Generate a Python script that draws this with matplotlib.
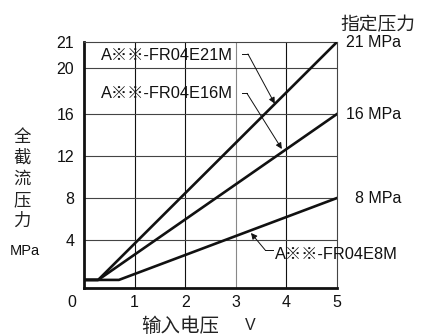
import numpy as np
import matplotlib
matplotlib.use("Agg")
import matplotlib.pyplot as plt

plt.rcParams["font.family"] = ["Liberation Sans", "Noto Sans CJK SC"]

# data
voltage_21 = [0.0, 0.28, 5.0]
pressure_21 = [0.2, 0.2, 21.0]
voltage_16 = [0.0, 0.28, 5.0]
pressure_16 = [0.2, 0.2, 16.0]
voltage_8 = [0.0, 0.69, 5.0]
pressure_8 = [0.2, 0.2, 8.0]

x_ticks = [1, 2, 3, 4, 5]
y_ticks = [4, 8, 12, 16, 20, 21]
set_pressures = [21, 16, 8]
model_names = ["A※※-FR04E21M", "A※※-FR04E16M", "A※※-FR04E8M"]

# the drawing's y axis is stretched near the top (20-21)
knots_data = np.array([-10.0, 16.0, 20.0, 21.0, 30.0])
knots_disp = np.array([-105.0, 168.0, 214.0, 240.0, 474.0])


def fwd(y):
    return np.interp(y, knots_data, knots_disp)


def inv(p):
    return np.interp(p, knots_disp, knots_data)


fig = plt.figure(figsize=(4.27, 3.35), dpi=100)
ax = fig.add_axes([0.1967, 0.1403, 0.5925, 0.7343])
ax.set_yscale("function", functions=(fwd, inv))
ax.set_xlim(0, 5)
ax.set_ylim(-0.57, 21)

# grid
for x in [1, 2, 3, 4]:
    ax.axvline(x, color="#888888" if x == 3 else "#111111", lw=0.8, zorder=1)
for y in [4, 8, 12, 16, 20]:
    ax.axhline(y, color="#444444", lw=0.8, zorder=1)

ax.plot(voltage_21, pressure_21, color="#111111", lw=1.9, zorder=3)
ax.plot(voltage_16, pressure_16, color="#111111", lw=1.9, zorder=3)
ax.plot(voltage_8, pressure_8, color="#111111", lw=1.9, zorder=3)

ax.set_xticks(x_ticks)
ax.set_xticklabels([str(t) for t in x_ticks])
ax.set_yticks(y_ticks)
ax.set_yticklabels([str(t) for t in y_ticks])
ax.yaxis.set_minor_locator(matplotlib.ticker.NullLocator())
ax.tick_params(length=0, labelsize=11.5, colors="#111111")
ax.tick_params(axis="y", pad=7)
ax.tick_params(axis="x", pad=5)

for side in ["left", "bottom"]:
    ax.spines[side].set_linewidth(2.0)
    ax.spines[side].set_color("#111111")
for side in ["top", "right"]:
    ax.spines[side].set_linewidth(0.8)
    ax.spines[side].set_color("#444444")

ax.text(-0.24, -1.2, "0", fontsize=11.5, ha="center", va="top", color="#111111")

# right side labels
trans = matplotlib.transforms.blended_transform_factory(ax.transAxes, ax.transData)
for p in set_pressures:
    ax.text(1.253, p, f"{p} MPa", transform=trans, ha="right", va="center",
            fontsize=11.5, color="#111111")

fig.text(0.972, 0.926, "指定压力", ha="right", va="center", fontsize=13.5,
         family="Noto Sans CJK SC", color="#222222")

# y label: stacked characters
for i, ch in enumerate("全截流压力"):
    fig.text(0.052, 1 - (137 + 21 * i) / 335, ch, ha="center", va="center",
             fontsize=12.5, family="Noto Sans CJK SC", color="#222222")
fig.text(0.058, 1 - 251 / 335, "MPa", ha="center", va="center", fontsize=10.5,
         color="#111111")

fig.text(0.330, 1 - 326 / 335, "输入电压", ha="left", va="center", fontsize=14,
         family="Noto Sans CJK SC", color="#222222")
fig.text(0.587, 1 - 326 / 335, "V", ha="center", va="center", fontsize=11.5,
         color="#222222")

# model labels with leaders
arrow = dict(arrowstyle="-|>", color="#111111", lw=0.7,
             mutation_scale=9, shrinkA=0, shrinkB=0)

ax.text(0.34, 20.5, model_names[0], fontsize=11.8, ha="left", va="center",
        color="#111111", zorder=5)
ax.plot([3.12, 3.24], [20.54, 20.54], color="#111111", lw=0.7)
ax.annotate("", xy=(3.77, 16.9), xytext=(3.24, 20.54), arrowprops=arrow)

ax.text(0.34, 17.8, model_names[1], fontsize=11.8, ha="left", va="center",
        color="#111111", zorder=5)
ax.plot([3.12, 3.22], [17.8, 17.8], color="#111111", lw=0.7)
ax.annotate("", xy=(3.91, 12.67), xytext=(3.22, 17.8), arrowprops=arrow)

ax.text(3.77, 2.67, model_names[2], fontsize=11.8, ha="left", va="center",
        color="#111111", zorder=5, clip_on=False)
ax.plot([3.58, 3.74], [3.05, 3.05], color="#111111", lw=0.7)
ax.annotate("", xy=(3.30, 4.67), xytext=(3.58, 3.05), arrowprops=arrow)

fig.savefig("out.png", dpi=100)
